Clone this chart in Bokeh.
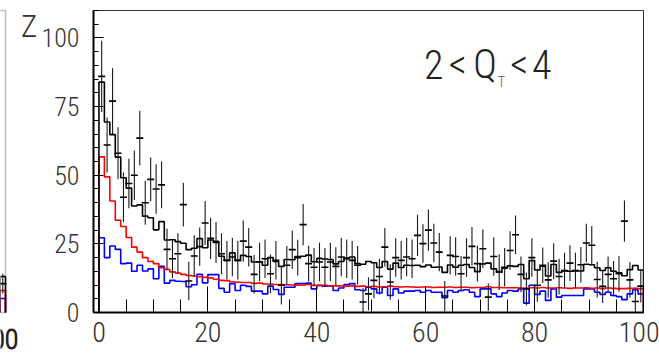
from bokeh.plotting import figure
from bokeh.models import Range1d, FixedTicker, Label, BoxAnnotation
from bokeh.core.properties import value
from bokeh.layouts import row
from bokeh.embed import file_html
from bokeh.resources import INLINE

FONT = ("Roboto Condensed Light, Liberation Sans Narrow, DejaVu Sans Condensed, "
        "Roboto Condensed, Roboto Light, Liberation Sans, sans-serif")

# ---- binned distribution, 100 unit-width bins from 0 to 100 ----
bin_edges = list(range(0, 101))

red_component = [
    56.7, 49.4, 40.6, 33.6, 31.3, 27.3, 23.8, 22.0, 20.0, 18.6,
    17.8, 16.3, 15.7, 14.8, 14.4, 13.9, 13.5, 13.3, 13.0, 12.8,
    12.6, 12.1, 11.7, 11.6, 11.2, 11.0, 10.9, 10.9, 10.6, 10.7,
    10.4, 10.4, 10.2, 10.2, 10.1, 10.0, 9.9, 10.0, 10.2, 9.9,
    9.8, 9.9, 9.7, 9.7, 9.7, 9.6, 9.7, 9.5, 9.6, 9.4,
    9.5, 9.3, 9.4, 9.6, 9.4, 9.3, 9.4, 9.3, 9.2, 9.3,
    9.3, 9.1, 9.2, 9.2, 9.3, 9.1, 9.2, 9.2, 9.0, 9.1,
    9.1, 9.4, 9.1, 9.1, 9.0, 9.0, 9.0, 8.9, 8.9, 9.0,
    8.9, 9.1, 8.9, 8.9, 9.0, 8.9, 8.8, 8.9, 8.9, 9.0,
    8.8, 8.9, 8.7, 8.9, 8.8, 8.7, 8.7, 8.8, 8.8, 8.7,
]

blue_component = [
    27.2, 20.0, 24.2, 23.0, 17.8, 18.0, 15.0, 17.2, 15.1, 15.9,
    12.3, 16.8, 10.7, 11.7, 11.4, 11.3, 9.4, 10.1, 13.9, 10.8,
    13.8, 13.8, 8.8, 7.4, 10.5, 8.0, 9.9, 9.5, 7.8, 7.8,
    6.8, 9.6, 8.4, 6.6, 9.2, 9.2, 10.5, 10.5, 10.7, 8.6,
    9.9, 9.6, 9.6, 8.0, 8.9, 10.2, 10.5, 8.3, 8.0, 9.2,
    8.6, 7.1, 9.2, 6.2, 8.6, 7.1, 7.8, 7.8, 8.0, 7.4,
    8.0, 7.4, 7.4, 5.4, 8.0, 7.4, 8.0, 8.3, 7.4, 5.8,
    8.6, 8.6, 6.8, 5.8, 7.1, 8.0, 7.8, 8.6, 3.4, 9.9,
    6.6, 7.8, 4.4, 8.6, 5.6, 6.2, 6.2, 6.2, 6.2, 8.6,
    8.6, 7.4, 6.6, 7.4, 6.2, 5.8, 4.7, 6.8, 8.3, 6.8,
]

total_model = [
    83.9, 69.4, 64.8, 56.6, 49.1, 45.3, 38.8, 39.2, 35.1, 34.5,
    30.1, 33.1, 26.4, 26.5, 25.8, 25.2, 22.9, 23.4, 26.9, 23.6,
    26.4, 25.9, 20.5, 19.0, 21.7, 19.0, 20.8, 20.4, 18.4, 18.5,
    17.2, 20.0, 18.6, 16.8, 19.3, 19.2, 20.4, 20.5, 20.9, 18.5,
    19.7, 19.5, 19.3, 17.7, 18.6, 19.8, 20.2, 17.8, 17.6, 18.6,
    18.1, 16.4, 18.6, 15.8, 18.0, 16.4, 17.2, 17.1, 17.2, 16.7,
    17.3, 16.5, 16.6, 14.6, 17.3, 16.5, 17.2, 17.5, 16.4, 14.9,
    17.7, 18.0, 15.9, 14.9, 16.1, 17.0, 16.8, 17.5, 12.3, 18.9,
    15.5, 16.9, 13.3, 17.5, 14.6, 15.1, 15.0, 15.1, 15.1, 17.6,
    17.4, 16.3, 15.3, 16.3, 15.0, 14.5, 13.4, 15.6, 17.1, 15.5,
]

measured = [
    86, 61, 77, 58, 42, 47, 50, 63.5, 40, 48.5,
    45, 46.5, 23, 19.6, 21.4, 39.3, 11.5, 20.6, 24, 32.6,
    27, 25.5, 21.4, 19, 20.2, 19, 26, 23.8, 13.9, 18.4,
    19.6, 14.1, 19, 9.9, 17.2, 22.9, 20, 32, 17.8, 16.5,
    18.4, 16.5, 18.4, 16.8, 20.2, 19.6, 19, 17.2, 3.8, 6.8,
    11.7, 13.1, 23.8, 11.1, 20, 19, 20.2, 19.6, 28.1, 25.1,
    30, 25.3, 22, 6, 20.8, 20.4, 14.1, 20, 24.1, 17.8,
    23.2, 5.6, 20.4, 14.7, 16.5, 22.6, 28.3, 13.9, 8.6, 20,
    9.9, 17.2, 11.9, 18.7, 13.1, 15.3, 18, 15.3, 17.4, 25.3,
    24.5, 12, 9.5, 13.9, 12.3, 14.1, 33.3, 11.9, 4, 9.6,
]

measured_err = [
    13, 10, 12, 9.5, 9, 9, 9, 10, 8, 8,
    9, 8.5, 7.5, 7, 7.5, 8, 7, 7.5, 7, 8,
    7.5, 7.5, 7.5, 7, 7, 7, 7.5, 7, 7, 7,
    7, 7, 7, 7, 7, 7, 6.5, 7.5, 6.5, 7,
    7, 7, 7, 7, 7, 7, 7, 7, 5, 6,
    6.5, 6.5, 7, 6.5, 7, 7, 7, 7, 7.5, 7,
    7.5, 7, 7, 5.5, 7, 7, 6.5, 7, 7, 6.5,
    7, 5, 7, 6.5, 7, 7, 7, 6.5, 6, 7,
    6, 6.5, 6.5, 6.5, 6.5, 6.5, 6.5, 6.5, 6.5, 7,
    7, 6.5, 6, 6.5, 6.5, 6.5, 7.5, 6.5, 5, 6,
]

# tail of the neighbouring panel (only its last bin is in view)
prev_edges = [99, 100]
prev_red = [8.0]
prev_blue = [5.1]
prev_total = [13.1]
prev_measured = [10.5]
prev_err = [3.6]

x_major = [0, 20, 40, 60, 80, 100]
y_major = [0, 25, 50, 75, 100]


def outline(values, edges):
    """Histogram outline: steps across the bins, dropping to zero at both ends."""
    xs, ys = [edges[0]], [0]
    for i, v in enumerate(values):
        xs += [edges[i], edges[i + 1]]
        ys += [v, v]
    xs.append(edges[-1])
    ys.append(0)
    return xs, ys


def draw_panel(p, edges, red, blue, total, pts, errs):
    xs, ys = outline(blue, edges)
    p.line(xs, ys, line_color="#0000ff", line_width=1.6)
    xs, ys = outline(red, edges)
    p.line(xs, ys, line_color="#ff0000", line_width=1.6)
    xs, ys = outline(total, edges)
    p.line(xs, ys, line_color="black", line_width=1.6)
    centers = [(edges[i] + edges[i + 1]) / 2 for i in range(len(pts))]
    lo = [v - e for v, e in zip(pts, errs)]
    hi = [v + e for v, e in zip(pts, errs)]
    p.segment(x0=centers, y0=lo, x1=centers, y1=hi, line_color="#1a1a1a", line_width=1.1)
    p.scatter(centers, pts, marker="dash", size=7, line_color="black", line_width=1.6)


# ---- left margin strip: edge of the neighbouring panel and stray labels ----
# its frame fills the whole strip, on the same x/y scale as the main panel
pm = figure(width=38, height=356, x_range=Range1d(99.083, 106.049), y_range=Range1d(-16.03, 113.64),
            output_backend="svg", toolbar_location=None,
            x_axis_location=None, y_axis_location=None,
            min_border_left=0, min_border_right=0, min_border_top=0, min_border_bottom=0)
pm.frame_align = False
pm.outline_line_color = None
pm.xgrid.visible = False
pm.ygrid.visible = False
pm.add_layout(BoxAnnotation(left=95, right=100, bottom=0, top=110, fill_color=None,
                            line_color="#222222", line_width=1.5))
draw_panel(pm, prev_edges, prev_red, prev_blue, prev_total, prev_measured, prev_err)
pm.text(x=[102.38], y=[-9.5], text=["100"], text_align="right", text_baseline="middle",
        text_font=value(FONT), text_font_size="28px", text_font_style="bold", text_color="#222222")
pm.text(x=[104.31], y=[104.0], text=["Z"], text_align="center", text_baseline="middle",
        text_font=value(FONT), text_font_size="31px", text_color="#333333")

# ---- main panel ----
p = figure(width=621, height=356, x_range=Range1d(-1, 100), y_range=Range1d(0, 110),
           output_backend="svg", toolbar_location=None,
           min_border_left=54, min_border_right=16, min_border_top=10, min_border_bottom=44)
p.frame_align = False
p.xgrid.visible = False
p.ygrid.visible = False
p.outline_line_color = "#333333"
p.outline_line_width = 1
p.background_fill_color = "white"
p.border_fill_color = "white"

p.xaxis.ticker = FixedTicker(ticks=x_major, minor_ticks=list(range(0, 101, 5)))
p.yaxis.ticker = FixedTicker(ticks=y_major, minor_ticks=list(range(0, 111, 5)))
for ax in (p.xaxis, p.yaxis):
    ax.axis_line_width = 2
    ax.axis_line_color = "black"
    ax.major_tick_line_color = "black"
    ax.minor_tick_line_color = "black"
    ax.major_tick_out = 0
    ax.minor_tick_out = 0
    ax.major_label_text_font = FONT
    ax.major_label_text_color = "#333333"
p.xaxis.major_label_text_font_size = "28px"
p.yaxis.major_label_text_font_size = "26px"
p.xaxis.major_tick_in = 26
p.xaxis.minor_tick_in = 13
p.xaxis.major_label_standoff = 9
p.yaxis.major_tick_in = 10
p.yaxis.minor_tick_in = 5
p.yaxis.major_label_standoff = 14

draw_panel(p, bin_edges, red_component, blue_component, total_model, measured, measured_err)

# range annotation: 2 < Q_T < 4
for txt, xpos in [("2", 61.5), ("<", 65.9), ("Q", 70.9), ("<", 77.2), ("4", 81.3)]:
    p.add_layout(Label(x=xpos, y=90.3, text=txt, text_align="center", text_baseline="middle",
                       text_font=FONT, text_font_size="40px", text_color="#222222"))
p.add_layout(Label(x=73.9, y=84.0, text="T", text_align="center", text_baseline="middle",
                   text_font=FONT, text_font_size="15px", text_color="#666666"))

layout = row(pm, p)
open("out.html", "w").write(file_html(layout, INLINE))
